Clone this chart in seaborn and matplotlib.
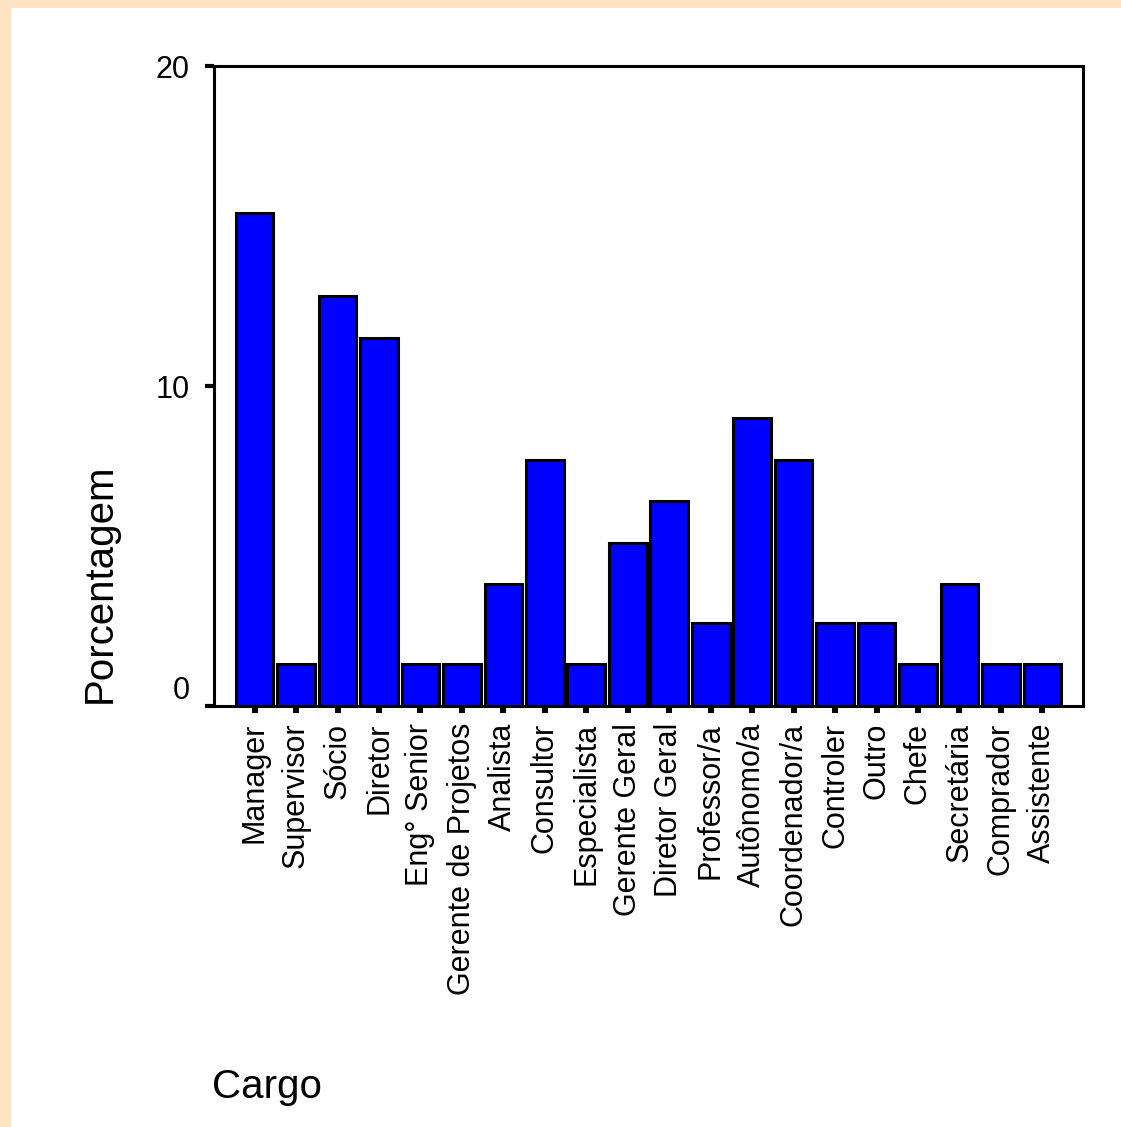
import pandas as pd
import matplotlib.pyplot as plt
import seaborn as sns
from matplotlib.patches import Rectangle

cargos = ['Manager', 'Supervisor', 'Sócio', 'Diretor', 'Eng° Senior',
          'Gerente de Projetos', 'Analista', 'Consultor', 'Especialista',
          'Gerente Geral', 'Diretor Geral', 'Professor/a', 'Autônomo/a',
          'Coordenador/a', 'Controler', 'Outro', 'Chefe', 'Secretária',
          'Comprador', 'Assistente']
porcentagem = [15.4, 1.3, 12.8, 11.5, 1.3,
               1.3, 3.8, 7.7, 1.3,
               5.1, 6.4, 2.6, 9.0,
               7.7, 2.6, 2.6, 1.3, 3.8,
               1.3, 1.3]
y_ticks = [0, 10, 20]

sns.set_style('white')
plt.rcParams['font.family'] = ['Liberation Sans', 'DejaVu Sans']
plt.rcParams['text.color'] = 'black'
plt.rcParams['axes.labelcolor'] = 'black'
plt.rcParams['xtick.color'] = 'black'
plt.rcParams['ytick.color'] = 'black'

df = pd.DataFrame({'Cargo': cargos, 'Porcentagem': porcentagem})

fig = plt.figure(figsize=(11.21, 11.27), dpi=100)
fig.patch.set_facecolor('#FFE4C4')
# white panel, leaving the peach strip at left and top
fig.patches.append(Rectangle((11 / 1121, 0), 1, 1 - 8 / 1127, transform=fig.transFigure,
                             facecolor='white', edgecolor='none', zorder=-10))

ax = fig.add_axes([214 / 1121, 1 - 706 / 1127, 869 / 1121, 640 / 1127])
ax.set_zorder(1)
ax.set_facecolor('white')
sns.barplot(data=df, x='Cargo', y='Porcentagem', order=cargos, color='#0000FF',
            saturation=1, edgecolor='black', linewidth=2.2, width=0.91, ax=ax)

ax.set_xlim(-0.98, len(cargos) - 0.02)
ax.set_ylim(0, 20)
ax.set_yticks(y_ticks)
ax.set_yticklabels([str(t) for t in y_ticks])
ax.get_yticklabels()[0].set_va('bottom')

for s in ax.spines.values():
    s.set_linewidth(2.2)
    s.set_color('black')

ax.tick_params(axis='y', left=True, length=6.5, width=3, pad=11, labelsize=22, direction='out')
ax.tick_params(axis='x', bottom=True, length=5, width=4.3, pad=7, labelsize=22, direction='out')
plt.setp(ax.get_xticklabels(), rotation=90)

ax.set_ylabel('Porcentagem', fontsize=29)
ax.yaxis.set_label_coords(-0.131, 0.192)
ax.yaxis.label.set_va('center')
ax.set_xlabel('Cargo', fontsize=29, loc='left')
ax.xaxis.set_label_coords(-0.002, -0.6125)
ax.xaxis.label.set_va('baseline')
ax.xaxis.label.set_ha('left')

fig.savefig('out.png', dpi=100, facecolor=fig.get_facecolor())
